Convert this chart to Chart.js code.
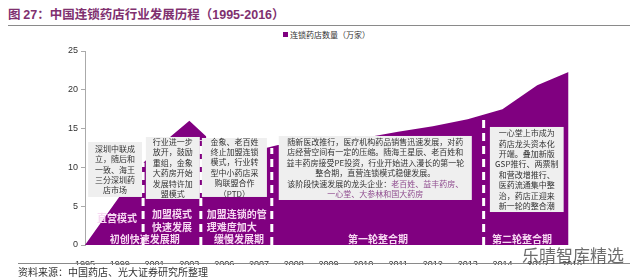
<!DOCTYPE html>
<html>
<head>
<meta charset="utf-8">
<script src="https://cdn.jsdelivr.net/npm/chart.js@4.4.1/dist/chart.umd.min.js"></script>
<style>
    body { margin: 0; background: #fff; width: 640px; height: 280px; position: relative; overflow: hidden;
           font-family: "Noto Sans CJK SC", sans-serif; }
    #title { position: absolute; left: 8px; top: 4px; font-size: 12.5px; font-weight: bold; color: #80306f; white-space: nowrap; }
    #title b { font-family: "Liberation Sans", Arial, sans-serif; }
    .rule { position: absolute; left: 8px; width: 622px; height: 1px; background: #8a8a8a; }
    #legend { position: absolute; left: 283px; top: 29px; font-size: 8px; color: #333; white-space: nowrap; }
    #legend i { display: inline-block; width: 5px; height: 5px; background: #800080; margin-right: 2px; vertical-align: 1px; }
    #source { position: absolute; left: 18px; top: 264px; font-size: 10px; color: #333; white-space: nowrap; }
    #mark { position: absolute; left: 522px; top: 242px; font-size: 17px; color: rgba(60,60,60,0.75); white-space: nowrap; }
    #chart { position: absolute; left: 0; top: 0; }
</style>
</head>
<body>
<div id="title">图 <b>27</b>：中国连锁药店行业发展历程（<b>1995-2016</b>）</div>
<div class="rule" style="top:25px"></div>
<div id="legend"><i></i>连锁药店数量（万家）</div>
<canvas id="chart" width="640" height="280"></canvas>
<div class="rule" style="top:263px;left:18px;width:612px"></div>
<div id="source">资料来源：中国药店、光大证券研究所整理</div>
<div id="mark">乐晴智库精选</div>

<script>
// --- data ---
const years = ['1995', '1999', '2001', '2003', '2006', '2007', '2008', '2009',
               '2010', '2011', '2012', '2013', '2014', '2015', '2016'];
// outline of the stylised area: position on the year axis (index) and stores (万家)
const shapeIdx = [0, 1.7, 2.47, 3, 3.48, 3.5, 5.2, 5.55, 8, 9, 10, 11, 12, 13, 13.9];
const shapeVal = [0, 10.7, 14, 16, 14, 12.5, 12.5, 12.9, 13.8, 14.6, 15.3, 16.2, 17.5, 20.6, 22.3];
// dashed stage dividers
const dividerIdx = [1.67, 3.33, 5.37, 11.46];
const dividerTop = [10.6, 13.5, 12.5, 16.5];
const yTicks = [0, 5, 10, 15, 20, 25];

const PURPLE = '#800080';
const HILITE = '#8e4a8e';

// --- note boxes (placed in axis units) ---
const notes = [
    { from: 0.09, to: 1.64, top: 13.27, bottom: 6.19,
      lines: ['深圳中联成', '立，随后和', '一致、海王', '三分深圳药', '店市场'] },
    { from: 1.75, to: 3.30, top: 13.92, bottom: 5.93,
      lines: ['行业进一步', '放开，鼓励', '重组，金象', '大药房开始', '发展特许加', '盟模式'] },
    { from: 3.36, to: 5.23, top: 13.79, bottom: 6.19,
      lines: ['金象、老百姓', '终止加盟连锁', '模式，行业转', '型中小药店采', '购联盟合作', '（PTD）'] },
    { from: 5.57, to: 11.12, top: 14.05, bottom: 5.80,
      lines: ['随新医改推行，医疗机构药品销售迅速发展，对药',
              '店经营空间有一定的压缩。随海王星辰、老百姓和',
              '益丰药房接受PE投资，行业开始进入漫长的第一轮',
              '整合期，直营连锁模式稳健发展。',
              [['该阶段快速发展的龙头企业：', '#333'], ['老百姓、益丰药房、', HILITE]],
              [['一心堂、大参林和国大药房', HILITE]]] },
    { from: 11.64, to: 13.76, top: 15.21, bottom: 4.25,
      lines: ['一心堂上市成为', '药店龙头资本化', '开端。叠加新版', 'GSP推行、两票制',
              '和营改增推行、', '医药流通集中整', '治，药店正迎来', '新一轮的整合潮'] }
];

// --- stage labels inside the purple area ---
const stages = [
    { text: '直营模式', at: 0.92, val: 3.5 },
    { text: '加盟模式', at: 2.5, val: 4.0 },
    { text: '快速发展', at: 2.5, val: 2.3 },
    { text: '初创快速发展期', at: 1.72, val: 0.8 },
    { text: '加盟连锁的管', at: 3.5, val: 4.0, align: 'left' },
    { text: '理难度加大', at: 3.5, val: 2.3, align: 'left' },
    { text: '缓慢发展期', at: 4.43, val: 0.8 },
    { text: '第一轮整合期', at: 8.42, val: 0.8 },
    { text: '第二轮整合期', at: 12.56, val: 0.8 }
];

const notesPlugin = {
    id: 'notes',
    afterDatasetsDraw(chart) {
        const { ctx, scales: { x, y } } = chart;
        ctx.save();
        ctx.textBaseline = 'middle';

        notes.forEach(n => {
            const l = x.getPixelForValue(n.from), r = x.getPixelForValue(n.to);
            const t = y.getPixelForValue(n.top), b = y.getPixelForValue(n.bottom);
            ctx.fillStyle = '#efefef';
            ctx.fillRect(l, t, r - l, b - t);

            ctx.font = '8px "Noto Sans CJK SC"';
            const lh = 10.4;
            const cx = (l + r) / 2;
            let ly = (t + b) / 2 - (n.lines.length - 1) * lh / 2;
            n.lines.forEach(line => {
                const parts = typeof line === 'string' ? [[line, '#333']] : line;
                const w = parts.reduce((s, p) => s + ctx.measureText(p[0]).width, 0);
                let px = cx - w / 2;
                ctx.textAlign = 'left';
                parts.forEach(([txt, col]) => {
                    ctx.fillStyle = col;
                    ctx.fillText(txt, px, ly);
                    px += ctx.measureText(txt).width;
                });
                ly += lh;
            });
        });

        ctx.font = 'bold 10px "Noto Sans CJK SC"';
        ctx.fillStyle = '#f7d9f2';
        stages.forEach(s => {
            ctx.textAlign = s.align || 'center';
            ctx.fillText(s.text, x.getPixelForValue(s.at), y.getPixelForValue(s.val));
        });
        ctx.restore();
    }
};

Chart.defaults.font.family = '"Liberation Sans", Arial, sans-serif';
Chart.defaults.color = '#333';

const datasets = [{
    label: '连锁药店数量（万家）',
    data: shapeIdx.map((v, i) => ({ x: v, y: shapeVal[i] })),
    backgroundColor: PURPLE,
    borderWidth: 0,
    fill: 'origin',
    pointRadius: 0,
    tension: 0,
    order: 2
}];

dividerIdx.forEach((d, i) => {
    datasets.push({
        data: [{ x: d, y: 0 }, { x: d, y: dividerTop[i] }],
        borderColor: '#fff',
        borderWidth: 3,
        borderDash: [8, 5],
        pointRadius: 0,
        fill: false,
        order: 1
    });
});

new Chart(document.getElementById('chart'), {
    type: 'line',
    data: { datasets },
    plugins: [notesPlugin],
    options: {
        responsive: false,
        animation: false,
        layout: { padding: { left: 0, top: 51, right: 68, bottom: 15 } },
        plugins: { legend: { display: false }, tooltip: { enabled: false } },
        scales: {
            x: {
                type: 'linear', min: 0, max: 14,
                afterFit: s => { s.height = 20; },
                grid: { display: false },
                border: { display: false },
                ticks: {
                    stepSize: 1, autoSkip: false, maxRotation: 0, padding: 6,
                    font: { size: 9 },
                    callback: v => years[v] ?? ''
                }
            },
            y: {
                min: 0, max: 25,
                afterFit: s => { s.width = 85; },
                afterBuildTicks: s => { s.ticks = yTicks.map(v => ({ value: v })); },
                grid: { drawOnChartArea: false, tickLength: 4, color: '#aaa' },
                border: { color: '#aaa' },
                ticks: { padding: 3, font: { size: 9 } }
            }
        }
    }
});
</script>
</body>
</html>
